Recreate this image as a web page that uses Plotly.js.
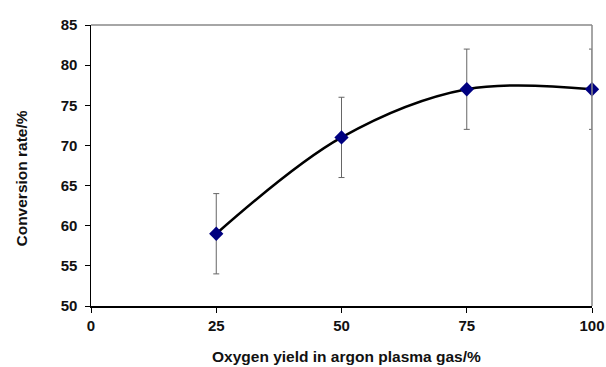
<!DOCTYPE html>
<html>
<head>
<meta charset="utf-8">
<script src="https://cdn.plot.ly/plotly-3.0.1.min.js"></script>
<style>html,body{margin:0;padding:0;background:#fff;}#chart{width:606px;height:367px;}</style>
</head>
<body>
<div id="chart"></div>
<script>
var oxygenYield = [25, 50, 75, 100];
var conversionRate = [59, 71, 77, 77];
var errorPlusMinus = [5, 5, 5, 5];
var xTicks = [0, 25, 50, 75, 100];
var yTicks = [50, 55, 60, 65, 70, 75, 80, 85];
var xTitle = 'Oxygen yield in argon plasma gas/%';
var yTitle = 'Conversion rate/%';

var fontFam = 'Arial, "Liberation Sans", sans-serif';

var trace = {
  x: oxygenYield,
  y: conversionRate,
  type: 'scatter',
  mode: 'lines+markers',
  line: {shape: 'spline', smoothing: 1, color: '#000000', width: 2.5},
  marker: {symbol: 'diamond', size: 11, color: '#000080', line: {width: 0}},
  error_y: {type: 'data', array: errorPlusMinus, visible: true, color: '#666666', thickness: 1, width: 3},
  cliponaxis: false,
  hoverinfo: 'none'
};

var layout = {
  width: 606, height: 367,
  margin: {l: 91, r: 14, t: 25, b: 61},
  paper_bgcolor: '#ffffff',
  plot_bgcolor: '#ffffff',
  showlegend: false,
  font: {family: fontFam, size: 12, color: '#111111'},
  xaxis: {
    range: [0, 100],
    tickvals: xTicks,
    ticktext: xTicks.map(String),
    ticks: 'outside', ticklen: 5, tickcolor: '#000', tickwidth: 1,
    showline: true, linecolor: '#000', linewidth: 1.5,
    showgrid: false, zeroline: false,
    tickfont: {family: fontFam, size: 15, color: '#111', weight: 'bold'}
  },
  yaxis: {
    range: [50, 85],
    tickvals: yTicks,
    ticktext: yTicks.map(function (v) { return String(v) + '\u00a0'; }),
    ticks: 'outside', ticklen: 5, tickcolor: '#000', tickwidth: 1,
    showline: true, linecolor: '#000', linewidth: 1.5,
    showgrid: false, zeroline: false,
    tickfont: {family: fontFam, size: 15, color: '#111', weight: 'bold'}
  },
  annotations: [
    {text: '<b>' + xTitle + '</b>', xref: 'paper', yref: 'paper', x: 0.509, y: -0.181,
     xanchor: 'center', yanchor: 'middle', showarrow: false,
     font: {family: fontFam, size: 15.5, color: '#111'}},
    {text: '<b>' + yTitle + '</b>', xref: 'paper', yref: 'paper', x: -0.1397, y: 0.4537,
     xanchor: 'center', yanchor: 'middle', showarrow: false, textangle: -90,
     font: {family: fontFam, size: 15.5, color: '#111'}}
  ],
  shapes: [
    {type: 'line', xref: 'paper', yref: 'paper', x0: 0, x1: 1, y0: 1, y1: 1, line: {color: '#888888', width: 1.5}},
    {type: 'line', xref: 'paper', yref: 'paper', x0: 1, x1: 1, y0: 0, y1: 1, line: {color: '#888888', width: 1.5}}
  ]
};

Plotly.newPlot('chart', [trace], layout, {displayModeBar: false, staticPlot: true});
</script>
</body>
</html>
